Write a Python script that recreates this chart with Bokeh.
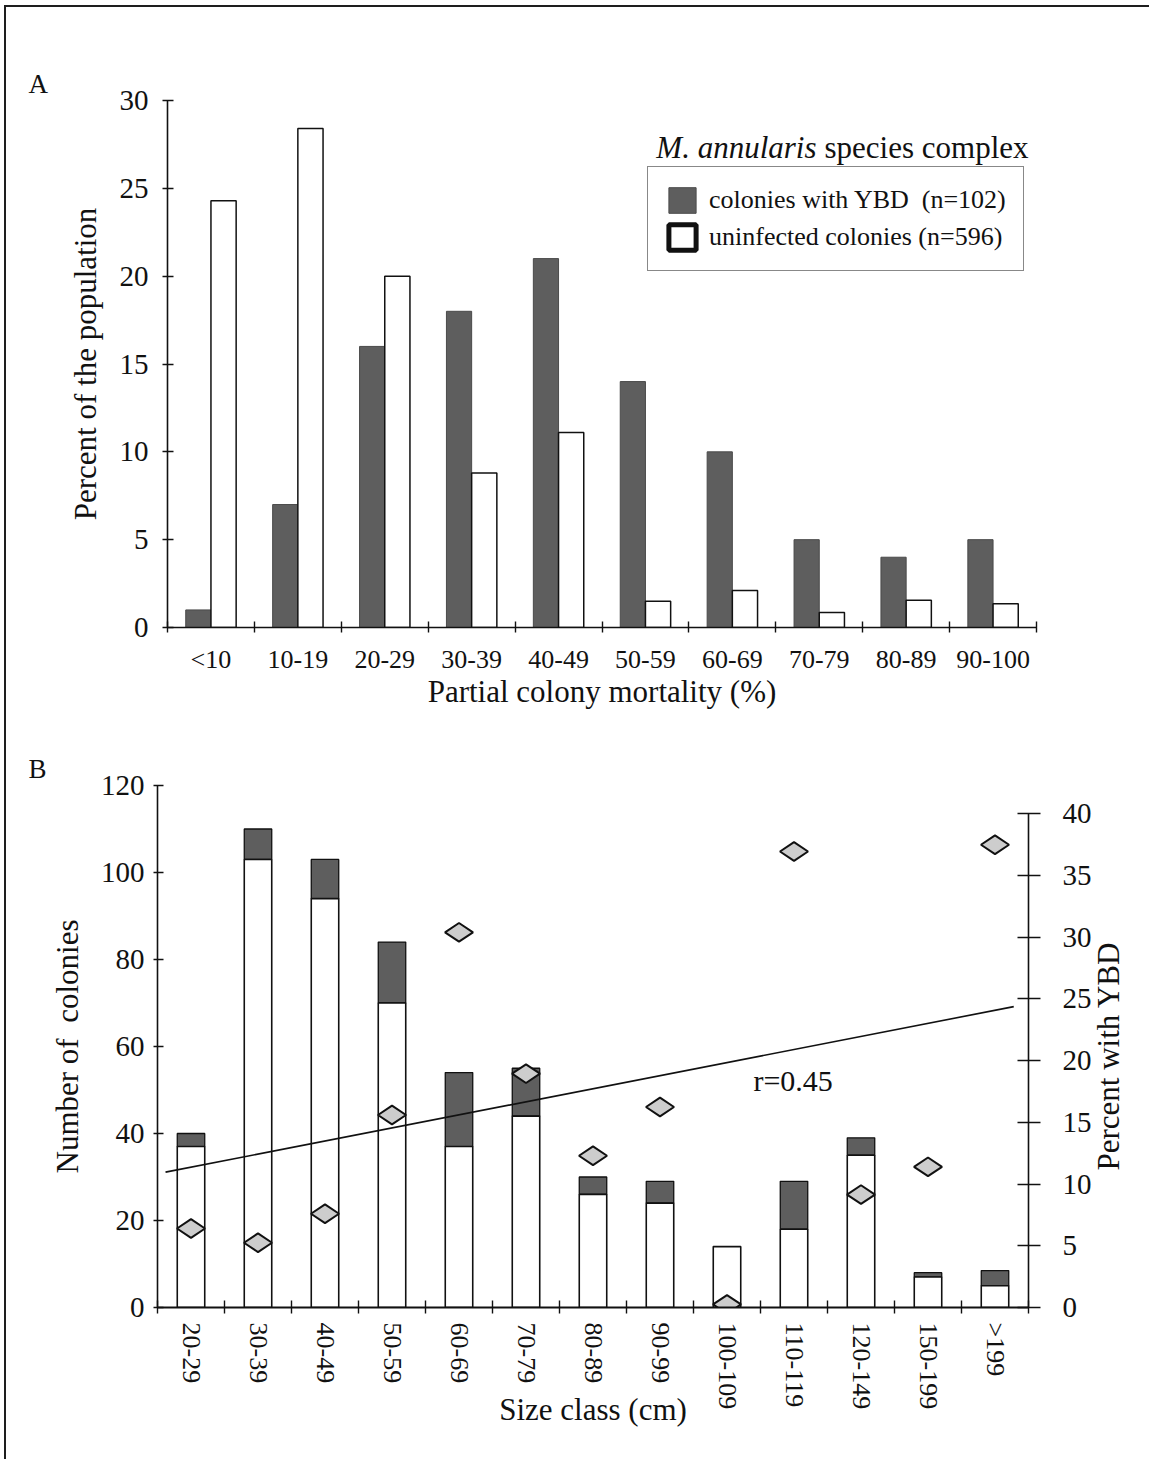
import math
from bokeh.plotting import figure
from bokeh.layouts import column
from bokeh.models import (FixedTicker, LinearAxis, Range1d, Label, Legend, Title,
                          LegendItem, ColumnDataSource)
from bokeh.transform import dodge
from bokeh.embed import file_html
from bokeh.resources import INLINE

FONT = "Liberation Serif"
INK = "#111111"
GRAY = "#5e5e5e"

# ---------------- data: panel A ----------------
mort_classes = ["<10", "10-19", "20-29", "30-39", "40-49",
                "50-59", "60-69", "70-79", "80-89", "90-100"]
ybd_pct = [1.0, 7.0, 16.0, 18.0, 21.0, 14.0, 10.0, 5.0, 4.0, 5.0]
uninf_pct = [24.3, 28.4, 20.0, 8.8, 11.1, 1.5, 2.1, 0.85, 1.55, 1.35]
a_yticks = [0, 5, 10, 15, 20, 25, 30]

# ---------------- data: panel B ----------------
size_classes = ["20-29", "30-39", "40-49", "50-59", "60-69", "70-79", "80-89",
                "90-99", "100-109", "110-119", "120-149", "150-199", ">199"]
uninf_n = [37, 103, 94, 70, 37, 44, 26, 24, 14, 18, 35, 7, 5]
ybd_n = [3, 7, 9, 14, 17, 11, 4, 5, 0, 11, 4, 1, 3.5]
pct_ybd = [6.4, 5.25, 7.6, 15.6, 30.4, 18.95, 12.3, 16.25, 0.25, 36.95, 9.15, 11.4, 37.5]
trend_x = [-0.38, 12.28]          # regression line ends (size-class index)
trend_pct = [10.97, 24.38]        # regression line ends (percent with YBD)
b_left_ticks = [0, 20, 40, 60, 80, 100, 120]
b_right_ticks = [0, 5, 10, 15, 20, 25, 30, 35, 40]

RIGHT_TITLE_AT = 11.1   # where the right-hand axis title starts (percent scale)


def style_axis(ax, tick_size, in_len, out_len):
    ax.axis_line_color = INK
    ax.axis_line_width = 1.6
    ax.major_tick_line_color = INK
    ax.major_tick_line_width = 1.4
    ax.minor_tick_line_color = INK
    ax.minor_tick_line_width = 1.4
    ax.major_tick_in = in_len
    ax.major_tick_out = out_len
    ax.major_label_text_font = FONT
    ax.major_label_text_font_size = tick_size
    ax.major_label_text_color = INK
    ax.axis_label_text_font = FONT
    ax.axis_label_text_font_size = "31px"
    ax.axis_label_text_font_style = "normal"
    ax.axis_label_text_color = INK


def panel_title(text, offset):
    return Title(text=text, align="left", offset=offset, standoff=3,
                 text_font=FONT, text_font_size="27px", text_font_style="normal",
                 text_color=INK)


# ================= Panel A =================
pa = figure(width=1143, height=730, x_range=Range1d(-0.5, 9.5), y_range=Range1d(0, 30),
            output_backend="svg", toolbar_location=None,
            min_border_left=161, min_border_right=113, min_border_top=93, min_border_bottom=110)
pa.outline_line_color = None
pa.grid.visible = False
pa.title = panel_title("A", -139)

idx_a = list(range(len(mort_classes)))
src_a = ColumnDataSource(dict(x=idx_a, ybd=ybd_pct, un=uninf_pct))
r_ybd = pa.vbar(x=dodge("x", -0.145), top="ybd", width=0.29, source=src_a,
                fill_color=GRAY, line_color="#4a4a4a", line_width=1)
pa.vbar(x=dodge("x", 0.145), top="un", width=0.29, source=src_a,
        fill_color="white", line_color=INK, line_width=1.5)

xa = pa.xaxis[0]
style_axis(xa, "26px", 0, 0)
xa.ticker = FixedTicker(ticks=idx_a, minor_ticks=[i - 0.5 for i in range(len(mort_classes) + 1)])
xa.major_label_overrides = {i: lab for i, lab in enumerate(mort_classes)}
xa.minor_tick_in = 6
xa.minor_tick_out = 5
xa.major_label_standoff = 12
xa.axis_label = "Partial colony mortality (%)"
xa.axis_label_standoff = -3

ya = pa.yaxis[0]
style_axis(ya, "29px", 6, 5)
ya.ticker = FixedTicker(ticks=a_yticks)
ya.minor_tick_line_color = None
ya.major_label_standoff = 14
ya.axis_label = "Percent of the population"
ya.axis_label_standoff = 14

# legend key for the uninfected class: hidden copy of the bars with a thick outline
r_un_key = pa.vbar(x=dodge("x", 0.145), top="un", width=0.29, source=src_a,
                   fill_color="white", line_color=INK, line_width=5, visible=False)
leg = Legend(items=[LegendItem(label="colonies with YBD\u00a0 (n=102)", renderers=[r_ybd]),
                    LegendItem(label="uninfected colonies (n=596)", renderers=[r_un_key])],
             location=(480, 356))
leg.border_line_color = INK
leg.border_line_width = 1.5
leg.background_fill_color = "white"
leg.background_fill_alpha = 1
leg.inactive_fill_alpha = 0
leg.label_text_font = FONT
leg.label_text_font_size = "26px"
leg.label_text_color = INK
leg.glyph_width = 34
leg.glyph_height = 32
leg.label_height = 32
leg.spacing = 5
leg.padding = 17
leg.label_standoff = 10
leg.margin = 0
pa.add_layout(leg)

pa.add_layout(Label(x=9.408, y=27.33, text="species complex", text_align="right",
                    text_baseline="middle", text_font=FONT, text_font_size="31px",
                    text_color=INK))
pa.add_layout(Label(x=9.408, y=27.33, x_offset=-212, text="M. annularis", text_align="right",
                    text_baseline="middle", text_font=FONT, text_font_size="31px",
                    text_font_style="italic", text_color=INK))

# ================= Panel B =================
pb = figure(width=1143, height=722, x_range=Range1d(-0.5, 12.5), y_range=Range1d(0, 120),
            output_backend="svg", toolbar_location=None,
            min_border_left=151, min_border_right=121, min_border_top=48, min_border_bottom=152)
pb.outline_line_color = None
pb.grid.visible = False
pb.title = panel_title("B", -129)
pb.extra_y_ranges = {"pct": Range1d(0, 42.3)}

for fig in (pa, pb):
    if "frame_align" in fig.properties():
        fig.frame_align = False

idx_b = list(range(len(size_classes)))
tot_n = [u + y for u, y in zip(uninf_n, ybd_n)]
src_b = ColumnDataSource(dict(x=idx_b, un=uninf_n, tot=tot_n, pct=pct_ybd))
pb.vbar(x="x", bottom="un", top="tot", width=0.41, source=src_b,
        fill_color=GRAY, line_color=INK, line_width=1.3)
pb.vbar(x="x", bottom=0, top="un", width=0.41, source=src_b,
        fill_color="white", line_color=INK, line_width=1.6)
pb.line(x=trend_x, y=trend_pct, y_range_name="pct", line_color=INK, line_width=1.6)
pb.scatter(x="x", y="pct", source=src_b, y_range_name="pct", marker="diamond",
           size=28, angle=math.pi / 2, fill_color="#cdcdcd", line_color=INK, line_width=2)

xb = pb.xaxis[0]
style_axis(xb, "26px", 0, 0)
xb.ticker = FixedTicker(ticks=idx_b, minor_ticks=[i - 0.5 for i in range(len(size_classes) + 1)])
xb.major_label_overrides = {i: lab for i, lab in enumerate(size_classes)}
xb.major_label_orientation = -math.pi / 2
xb.minor_tick_in = 7
xb.minor_tick_out = 6
xb.major_label_standoff = 9
xb.axis_line_width = 2
xb.axis_label = "Size class (cm)"
xb.axis_label_standoff = -20

yb = pb.yaxis[0]
style_axis(yb, "29px", 6, 4)
yb.ticker = FixedTicker(ticks=b_left_ticks)
yb.minor_tick_line_color = None
yb.major_label_standoff = 9
yb.axis_label = "Number of\u00a0 colonies"
yb.axis_label_standoff = 13

yr = LinearAxis(y_range_name="pct", ticker=FixedTicker(ticks=b_right_ticks), bounds=(0, 40))
style_axis(yr, "29px", 11, 12)
yr.minor_tick_line_color = None
yr.major_label_standoff = 22
pb.add_layout(yr, "right")

# right-hand title drawn as the single label of a bare outer axis (reads bottom to top)
yt = LinearAxis(y_range_name="pct", ticker=FixedTicker(ticks=[RIGHT_TITLE_AT]))
style_axis(yt, "31px", 0, 0)
yt.axis_line_color = None
yt.major_tick_line_color = None
yt.minor_tick_line_color = None
yt.major_label_overrides = {RIGHT_TITLE_AT: "Percent with YBD"}
yt.major_label_orientation = math.pi / 2
yt.major_label_standoff = 14
pb.add_layout(yt, "right")

pb.add_layout(Label(x=8.395, y=52.2, text="r=0.45", text_align="left",
                    text_baseline="middle", text_font=FONT, text_font_size="30px",
                    text_color=INK))

layout = column(pa, pb, margin=(5, 0, 0, 4),
                styles={"border-top": "2px solid #1e1e1e", "border-left": "2px solid #1e1e1e"})

open("out.html", "w").write(file_html(layout, INLINE))
